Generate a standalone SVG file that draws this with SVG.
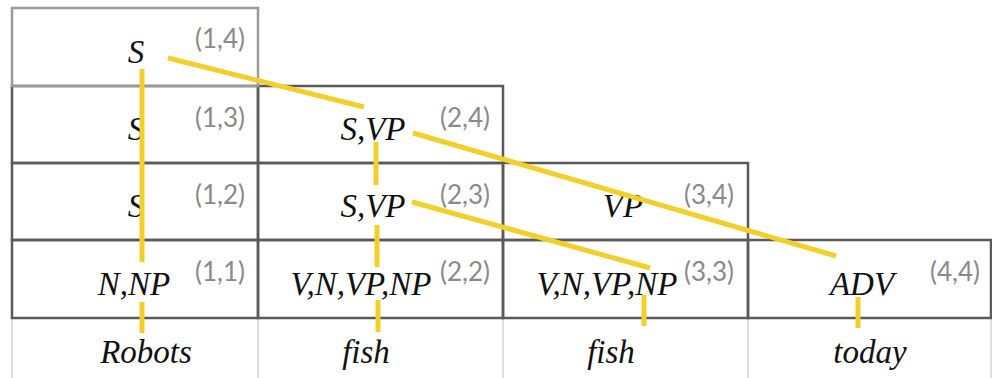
<svg xmlns="http://www.w3.org/2000/svg" width="992" height="378" viewBox="0 0 992 378">
<style>
.cell{fill:none;stroke:#5a5a5a;stroke-width:2.5}
.cell-top{fill:none;stroke:#9a9a9a;stroke-width:2.5}
.sep{stroke:#d4d4d4;stroke-width:1.5}
.sym{font-family:"Liberation Serif",serif;font-style:italic;font-size:33px;fill:#111;text-anchor:middle}
.idx{font-family:Lato,"Liberation Sans",sans-serif;font-size:26px;fill:#8a8a8a;text-anchor:end}
.edge{stroke:#f2cf2a;stroke-width:5;fill:none}
</style>
<rect width="992" height="378" fill="#fff"/>
<g id="word-separators">
<line class="sep" x1="12" y1="318" x2="12" y2="378"/>
<line class="sep" x1="258" y1="318" x2="258" y2="378"/>
<line class="sep" x1="503" y1="318" x2="503" y2="378"/>
<line class="sep" x1="748" y1="318" x2="748" y2="378"/>
<line class="sep" x1="991" y1="318" x2="991" y2="378"/>
</g>
<g id="cell-1-1"><rect class="cell" x="12" y="240" width="246" height="78"/><text class="sym" x="134" y="295">N,NP</text><text class="idx" x="245" y="281">(1,1)</text></g>
<g id="cell-2-2"><rect class="cell" x="258" y="240" width="245" height="78"/><text class="sym" x="361" y="295">V,N,VP,NP</text><text class="idx" x="490" y="281">(2,2)</text></g>
<g id="cell-3-3"><rect class="cell" x="503" y="240" width="245" height="78"/><text class="sym" x="607" y="295">V,N,VP,NP</text><text class="idx" x="734" y="281">(3,3)</text></g>
<g id="cell-4-4"><rect class="cell" x="748" y="240" width="243" height="78"/><text class="sym" x="862" y="295">ADV</text><text class="idx" x="980" y="281">(4,4)</text></g>
<g id="cell-1-2"><rect class="cell" x="12" y="163" width="246" height="77"/><text class="sym" x="136" y="217">S</text><text class="idx" x="245" y="204">(1,2)</text></g>
<g id="cell-2-3"><rect class="cell" x="258" y="163" width="245" height="77"/><text class="sym" x="373" y="217">S,VP</text><text class="idx" x="490" y="204">(2,3)</text></g>
<g id="cell-3-4"><rect class="cell" x="503" y="163" width="245" height="77"/><text class="sym" x="623" y="217">VP</text><text class="idx" x="734" y="204">(3,4)</text></g>
<g id="cell-1-3"><rect class="cell" x="12" y="86" width="246" height="77"/><text class="sym" x="136" y="140">S</text><text class="idx" x="245" y="127">(1,3)</text></g>
<g id="cell-2-4"><rect class="cell" x="258" y="86" width="245" height="77"/><text class="sym" x="373" y="140">S,VP</text><text class="idx" x="490" y="127">(2,4)</text></g>
<g id="cell-1-4"><rect class="cell-top" x="12" y="8" width="246" height="78"/><text class="sym" x="136" y="63">S</text><text class="idx" x="245" y="48">(1,4)</text></g>
<g id="word-1"><text class="sym" x="146" y="363">Robots</text></g>
<g id="word-2"><text class="sym" x="366" y="363">fish</text></g>
<g id="word-3"><text class="sym" x="611" y="363">fish</text></g>
<g id="word-4"><text class="sym" x="870" y="363">today</text></g>
<g id="connectors">
<line class="edge" x1="142" y1="69" x2="142" y2="262"/>
<line class="edge" x1="142" y1="302" x2="142" y2="333"/>
<line class="edge" x1="168" y1="58" x2="364" y2="107"/>
<line class="edge" x1="413" y1="133" x2="836" y2="256"/>
<line class="edge" x1="376" y1="142" x2="376" y2="185"/>
<line class="edge" x1="377" y1="225" x2="377" y2="267"/>
<line class="edge" x1="378" y1="300" x2="378" y2="332"/>
<line class="edge" x1="412" y1="202" x2="650" y2="268"/>
<line class="edge" x1="644" y1="295" x2="644" y2="326"/>
<line class="edge" x1="858" y1="297" x2="858" y2="328"/>
</g>
</svg>
